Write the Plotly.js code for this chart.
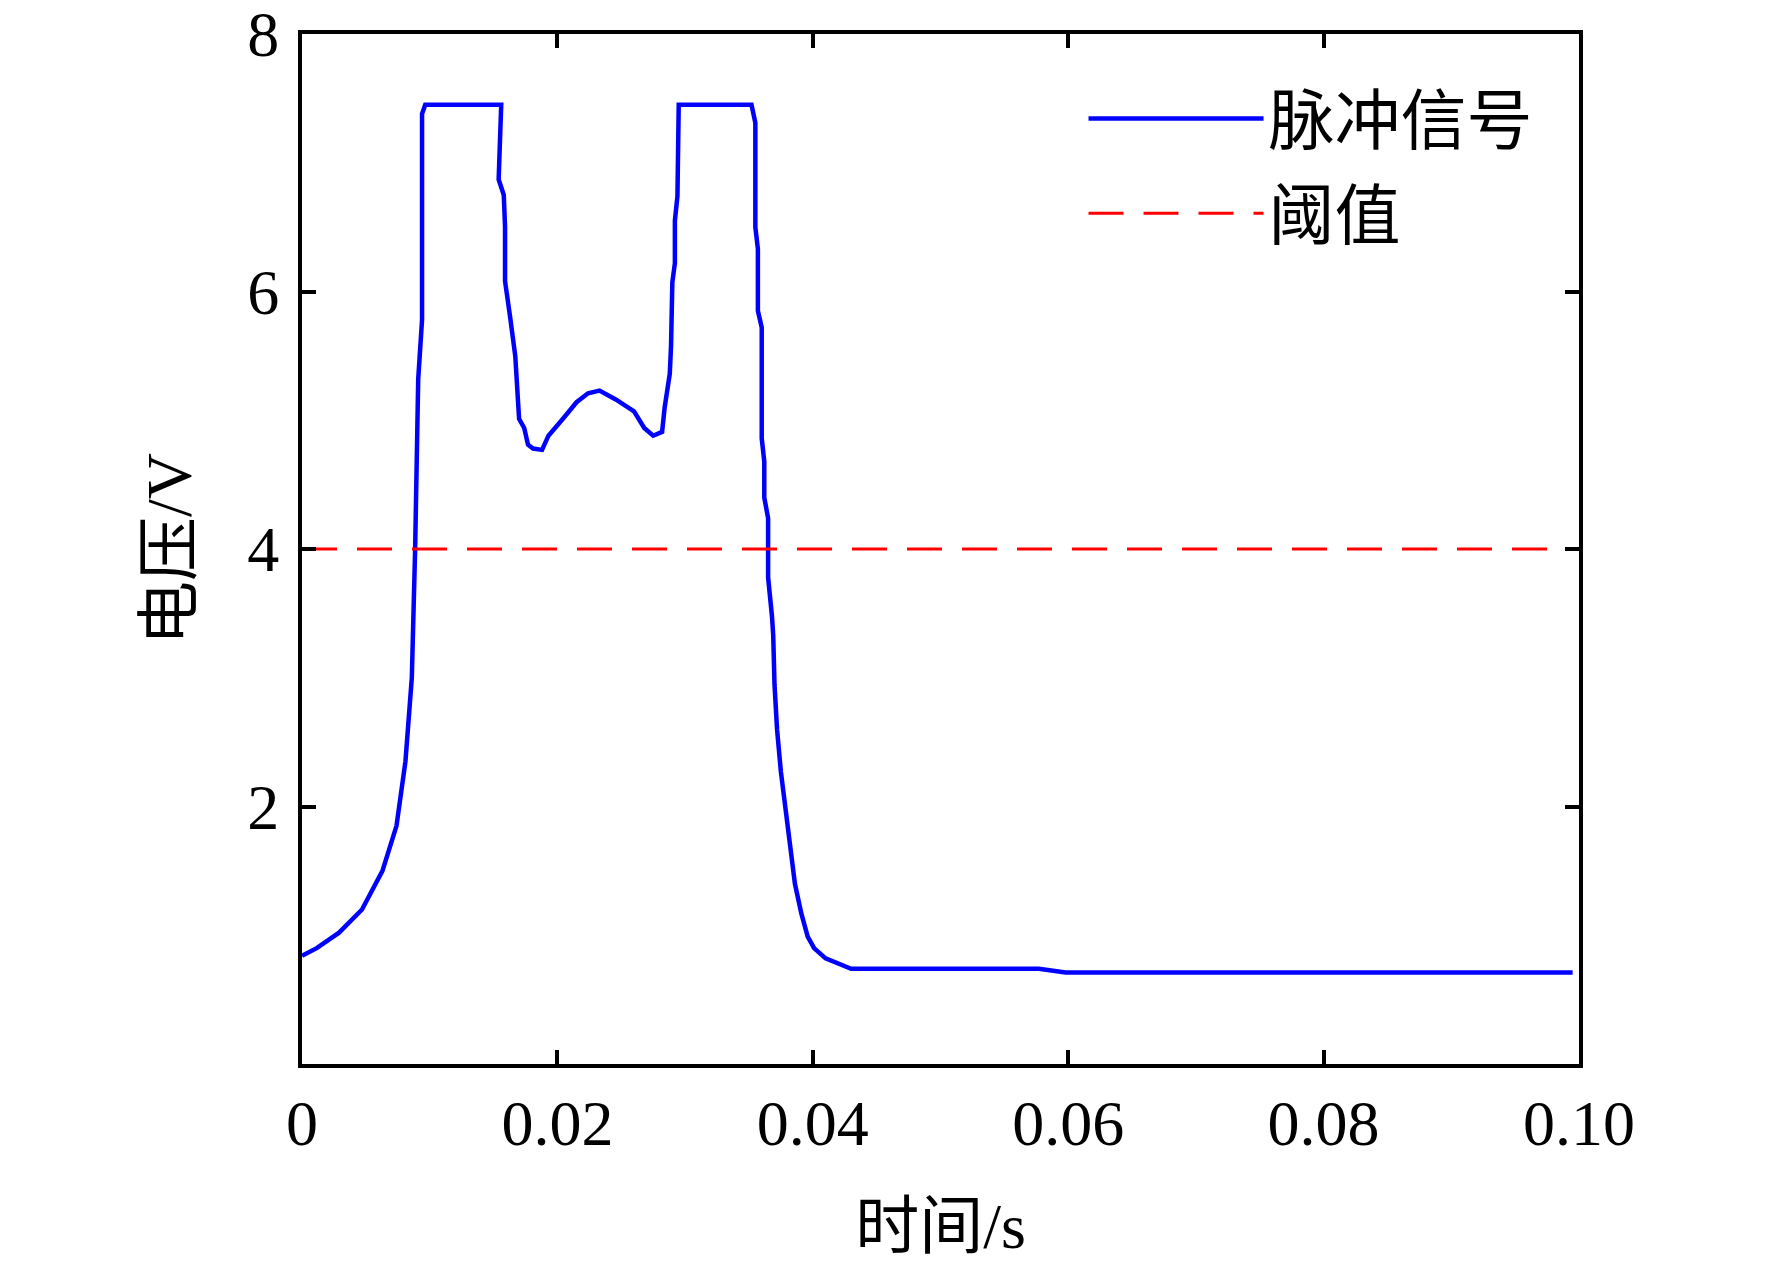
<!DOCTYPE html>
<html>
<head>
<meta charset="utf-8">
<script src="https://cdn.plot.ly/plotly-3.0.1.min.js"></script>
<style>
  html, body { margin: 0; padding: 0; background: #fff; }
  #plot { width: 1772px; height: 1268px; }
</style>
</head>
<body>
<div id="plot"></div>
<script>
// pulse signal
var timeS = [0, 0.00115, 0.0029, 0.0047, 0.0063, 0.0074, 0.0081, 0.0086, 0.00886, 0.0091, 0.0094, 0.0094,
  0.00965, 0.0156, 0.0154, 0.0158, 0.0159, 0.0159, 0.0163, 0.0167, 0.0170, 0.0174, 0.0177, 0.0181, 0.0188,
  0.0193, 0.0205, 0.0215, 0.0224, 0.0233, 0.0246, 0.0260, 0.0268, 0.0275, 0.0282, 0.0284, 0.0288, 0.0289,
  0.0290, 0.0292, 0.0292, 0.0294, 0.0295, 0.0352, 0.0355, 0.0355, 0.0357, 0.0357, 0.0360, 0.0360, 0.0362,
  0.0362, 0.0365, 0.0365, 0.0368, 0.0369, 0.0370, 0.0372, 0.0375, 0.0378, 0.0381, 0.0384, 0.0386, 0.0391,
  0.0396, 0.0401, 0.0410, 0.0430, 0.0577, 0.0598, 0.0995];
var pulseV = [0.84, 0.90, 1.02, 1.20, 1.50, 1.85, 2.35, 3.0, 4.0, 5.32, 5.78, 7.38,
  7.45, 7.45, 6.87, 6.75, 6.5, 6.08, 5.8, 5.5, 5.01, 4.94, 4.81, 4.78, 4.77,
  4.88, 5.02, 5.14, 5.21, 5.23, 5.16, 5.07, 4.94, 4.88, 4.91, 5.10, 5.36, 5.58,
  6.07, 6.22, 6.55, 6.74, 7.45, 7.45, 7.31, 6.5, 6.33, 5.85, 5.72, 4.86, 4.68,
  4.40, 4.24, 3.78, 3.48, 3.33, 2.95, 2.60, 2.27, 2.03, 1.81, 1.59, 1.40, 1.17,
  0.99, 0.90, 0.82, 0.74, 0.74, 0.71, 0.71];

var thresholdT = [0, 0.1];
var thresholdV = [4, 4];

var xTickVals = [0, 0.02, 0.04, 0.06, 0.08, 0.10];
var xTickText = ['0', '0.02', '0.04', '0.06', '0.08', '0.10'];
var yTickVals = [2, 4, 6, 8];

var serif = '"Liberation Serif", "Times New Roman", serif';
var cjk = '"Liberation Serif", "Noto Sans CJK SC", serif';

var pulse = {
  x: timeS,
  y: pulseV,
  mode: 'lines',
  name: '脉冲信号',
  legendgroup: 'a',
  type: 'scatter',
  line: { color: '#0000ff', width: 4.5 }
};

var threshold = {
  x: thresholdT,
  y: thresholdV,
  mode: 'lines',
  name: '阈值',
  legendgroup: 'b',
  type: 'scatter',
  line: { color: '#ff0000', width: 3, dash: '35px,20px' }
};

var axisStyle = {
  showline: true,
  linecolor: '#000',
  linewidth: 4,
  mirror: 'ticks',
  ticks: 'inside',
  ticklen: 14,
  tickwidth: 4,
  tickcolor: '#000',
  showgrid: false,
  zeroline: false,
  ticklabeloverflow: 'allow',
  tickfont: { family: serif, size: 64, color: '#000' }
};

var layout = {
  width: 1772,
  height: 1268,
  margin: { l: 302, r: 193, t: 34, b: 204 },
  paper_bgcolor: '#fff',
  plot_bgcolor: '#fff',
  showlegend: true,
  legend: {
    x: 0.612, y: 0.966, xanchor: 'left', yanchor: 'top',
    bgcolor: 'rgba(0,0,0,0)',
    itemwidth: 175,
    tracegroupgap: 6,
    font: { family: cjk, size: 66, color: '#000' }
  },
  xaxis: Object.assign({}, axisStyle, {
    range: [0, 0.1],
    tickvals: xTickVals,
    ticktext: xTickText,
    title: { text: '时间/s', font: { family: cjk, size: 64, color: '#000' }, standoff: 46 }
  }),
  yaxis: Object.assign({}, axisStyle, {
    range: [0, 8],
    tickvals: yTickVals,
    ticklabelstandoff: 6,
    title: { text: '电压/V', font: { family: cjk, size: 64, color: '#000' }, standoff: 36 }
  })
};

Plotly.newPlot('plot', [pulse, threshold], layout, { displayModeBar: false, staticPlot: true });
</script>
</body>
</html>
